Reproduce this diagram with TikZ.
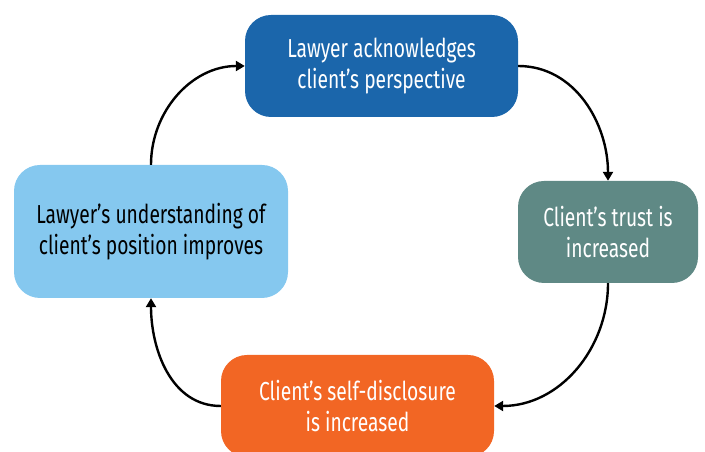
\documentclass[tikz,border=0pt]{standalone}
\usepackage{fontspec}
\setmainfont{Fira Sans}[FakeStretch=0.74]
\usetikzlibrary{arrows.meta}
\definecolor{topblue}{HTML}{1B66AB}
\definecolor{trustgray}{HTML}{5F8985}
\definecolor{discorange}{HTML}{F26624}
\definecolor{lightblue}{HTML}{85C8EF}
\tikzset{
	box/.style={rounded corners=26pt, align=center, inner sep=0pt,
		font=\fontsize{26}{31}\selectfont},
	cyc/.style={line width=2.4pt, -{Triangle[width=10pt,length=9pt]}}
}
\begin{document}
\begin{tikzpicture}[x=1pt,y=1pt]
	\useasboundingbox (0,0) rectangle (705,452);
	\node[box, fill=topblue, text=white, minimum width=273pt, minimum height=102pt] (ack) at (381.5,386) {Lawyer acknowledges\\client’s perspective};
	\node[box, fill=trustgray, text=white, minimum width=180pt, minimum height=102pt] (trust) at (608,220) {Client’s trust is\\increased};
	\node[box, fill=discorange, text=white, minimum width=273pt, minimum height=102pt] (disc) at (357.5,46) {Client’s self-disclosure\\is increased};
	\node[box, fill=lightblue, text=black, minimum width=274pt, minimum height=133pt] (under) at (151,220.5) {Lawyer’s understanding of\\client’s position improves};
	\draw[cyc] (ack.east) to[out=0, in=90] (trust.north);
	\draw[cyc] (trust.south) to[out=-90, in=0] (disc.east);
	\draw[cyc] (disc.west) to[out=180, in=-90] (under.south);
	\draw[cyc] (under.north) to[out=90, in=180] (ack.west);
\end{tikzpicture}
\end{document}
